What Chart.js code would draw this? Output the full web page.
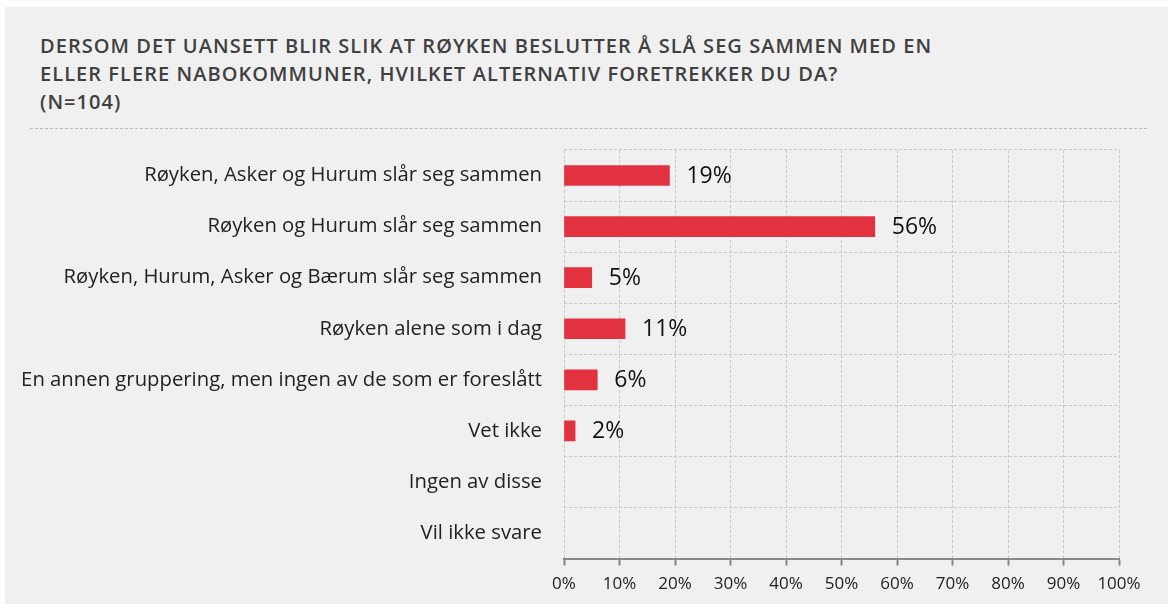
<!DOCTYPE html>
<html>
<head>
<meta charset="utf-8">
<script src="https://cdn.jsdelivr.net/npm/chart.js@4.4.1/dist/chart.umd.min.js"></script>
<style>
  html, body { margin: 0; padding: 0; background: #ffffff; }
  #panel {
    position: absolute; left: 5px; top: 7px; width: 1163px; height: 597px;
    background: #f0f0f0; overflow: hidden;
  }
  #title {
    position: absolute; left: 35px; top: 25px;
    font-family: "Open Sans", sans-serif; font-weight: 600; font-size: 20px;
    line-height: 28px; color: #404040; letter-spacing: 1.05px; white-space: nowrap;
  }
  #sep {
    position: absolute; left: 25px; top: 121px; width: 1117px; height: 0;
    border-top: 1px dashed #b8b8b8;
  }
  #wrap { position: absolute; left: 0; top: 128px; width: 1163px; height: 469px; }
</style>
</head>
<body>
<div id="panel">
  <div id="title">DERSOM DET UANSETT BLIR SLIK AT RØYKEN BESLUTTER Å SLÅ SEG SAMMEN MED EN<br>ELLER FLERE NABOKOMMUNER, HVILKET ALTERNATIV FORETREKKER DU DA?<br>(N=104)</div>
  <div id="sep"></div>
  <div id="wrap"><canvas id="chart"></canvas></div>
</div>
<script>
const categories = [
    'Røyken, Asker og Hurum slår seg sammen',
    'Røyken og Hurum slår seg sammen',
    'Røyken, Hurum, Asker og Bærum slår seg sammen',
    'Røyken alene som i dag',
    'En annen gruppering, men ingen av de som er foreslått',
    'Vet ikke',
    'Ingen av disse',
    'Vil ikke svare'
];
const shares = [19, 56, 5, 11, 6, 2, null, null];
const xTicks = [0, 10, 20, 30, 40, 50, 60, 70, 80, 90, 100];

// value labels next to each bar
const valueLabels = {
    id: 'valueLabels',
    afterDatasetsDraw(chart) {
        const ctx = chart.ctx;
        const meta = chart.getDatasetMeta(0);
        ctx.save();
        ctx.font = '23px "Open Sans", sans-serif';
        ctx.fillStyle = '#111111';
        ctx.textAlign = 'left';
        ctx.textBaseline = 'middle';
        meta.data.forEach((bar, i) => {
            if (shares[i] == null) return;
            ctx.fillText(shares[i] + '%', bar.x + 17, bar.y + 1);
        });
        ctx.restore();
    }
};

const ctx = document.getElementById('chart');
new Chart(ctx, {
    type: 'bar',
    data: {
        labels: categories,
        datasets: [{
            data: shares,
            backgroundColor: '#e2323f',
            barThickness: 20
        }]
    },
    options: {
        indexAxis: 'y',
        responsive: true,
        maintainAspectRatio: false,
        animation: false,
        layout: { padding: { top: 15, right: 49, bottom: 2, left: 0 } },
        plugins: {
            legend: { display: false },
            tooltip: { enabled: false }
        },
        scales: {
            x: {
                min: 0,
                max: 100,
                afterBuildTicks: (axis) => { axis.ticks = xTicks.map(v => ({ value: v })); },
                ticks: {
                    callback: (v) => v + '%',
                    color: '#222222',
                    font: { family: 'Open Sans', size: 17 },
                    padding: 8,
                    maxRotation: 0
                },
                grid: {
                    color: '#c8c8c8',
                    lineWidth: 1,
                    tickColor: '#888888',
                    tickLength: 7,
                    tickWidth: 2,
                    tickBorderDash: []
                },
                border: { display: true, color: '#888888', width: 2, dash: [3, 2] }
            },
            y: {
                afterFit: (axis) => {
                    axis.width = 559;
                    axis.paddingTop = 0;
                    axis.paddingBottom = 0;
                },
                ticks: {
                    color: '#222222',
                    font: { family: 'Open Sans', size: 20.3 },
                    padding: 22
                },
                grid: {
                    color: '#c8c8c8',
                    lineWidth: 1,
                    drawTicks: false
                },
                border: { display: false, dash: [3, 2] }
            }
        }
    },
    plugins: [valueLabels]
});
</script>
</body>
</html>
